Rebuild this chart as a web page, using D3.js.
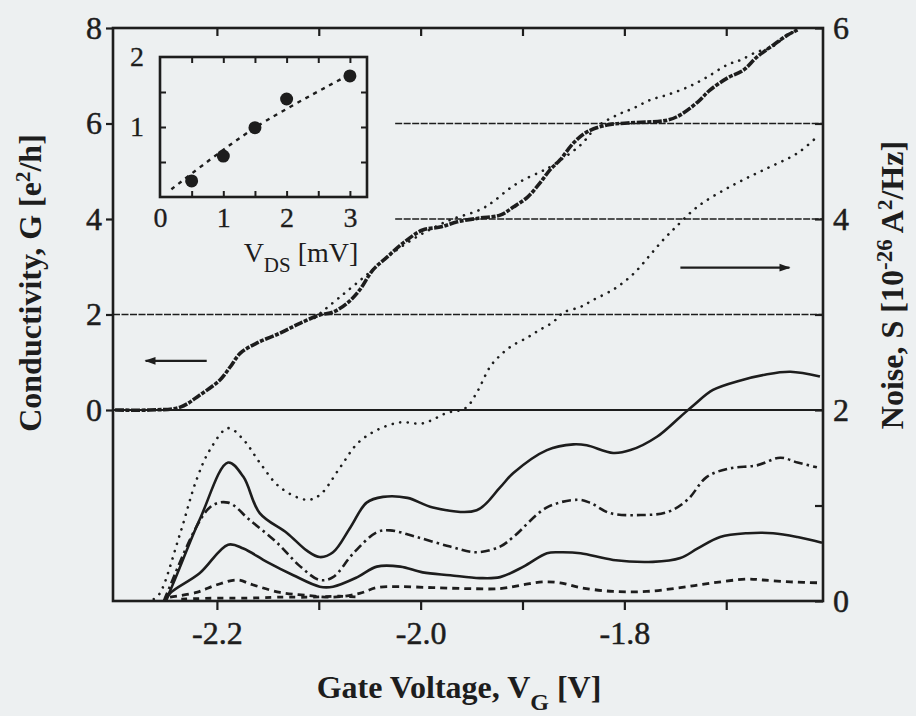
<!DOCTYPE html>
<html>
<head>
<meta charset="utf-8">
<script src="https://cdn.jsdelivr.net/npm/d3@7"></script>
<style>
  html, body { margin: 0; padding: 0; background: #edf0f1; }
  svg { display: block; }
</style>
</head>
<body>
<svg id="chart" width="916" height="716"></svg>
<script>
// ---- Conductance G (e^2/h) versus gate voltage, heavy trace ----
const condGate = [-2.300, -2.266, -2.236, -2.217, -2.197, -2.187, -2.177, -2.161, -2.138, -2.118, -2.099, -2.086,
  -2.072, -2.060, -2.047, -2.033, -2.017, -1.998, -1.981, -1.964, -1.942, -1.922, -1.909, -1.895,
  -1.883, -1.873, -1.863, -1.850, -1.837, -1.817, -1.797, -1.758, -1.745, -1.728, -1.716, -1.699,
  -1.683, -1.670, -1.654, -1.640, -1.630];
const condG = [0.00, 0.00, 0.06, 0.31, 0.63, 0.90, 1.19, 1.40, 1.61, 1.82, 1.99, 2.05,
  2.24, 2.51, 2.93, 3.20, 3.50, 3.77, 3.83, 3.94, 4.02, 4.08, 4.25, 4.46,
  4.75, 5.03, 5.24, 5.59, 5.82, 5.97, 6.01, 6.07, 6.18, 6.45, 6.70, 6.95,
  7.12, 7.39, 7.64, 7.85, 7.96];

// ---- Conductance, dotted trace ----
const cond2Gate = [-2.104, -2.079, -2.053, -2.030, -2.001, -1.971, -1.942, -1.929, -1.912, -1.899, -1.883,
  -1.873, -1.843, -1.827, -1.807, -1.791, -1.775, -1.758, -1.738, -1.719, -1.699, -1.686, -1.670,
  -1.657, -1.640, -1.630];
const cond2G = [1.93, 2.37, 2.83, 3.25, 3.66, 3.98, 4.19, 4.36, 4.65, 4.82, 4.98,
  5.09, 5.55, 5.93, 6.18, 6.32, 6.49, 6.60, 6.76, 6.97, 7.23, 7.33, 7.50,
  7.58, 7.85, 7.96];

// ---- Noise S (1e-26 A^2/Hz), five bias settings ----
const noiseDotGate = [-2.262, -2.256, -2.236, -2.220, -2.207, -2.189, -2.174, -2.158, -2.138, -2.112, -2.099,
  -2.079, -2.062, -2.043, -2.020, -1.998, -1.974, -1.956, -1.945, -1.932, -1.924, -1.912, -1.895,
  -1.883, -1.870, -1.860, -1.843, -1.831, -1.811, -1.797, -1.787, -1.775, -1.762, -1.750, -1.728,
  -1.696, -1.664, -1.630, -1.611];
const noiseDot = [0.02, 0.08, 0.71, 1.27, 1.58, 1.81, 1.69, 1.45, 1.19, 1.06, 1.11,
  1.40, 1.65, 1.79, 1.87, 1.86, 1.97, 2.02, 2.18, 2.45, 2.55, 2.66, 2.76,
  2.84, 2.92, 3.02, 3.08, 3.15, 3.26, 3.37, 3.47, 3.62, 3.78, 3.91, 4.13,
  4.34, 4.51, 4.69, 4.86];

const noiseHighGate = [-2.252, -2.249, -2.217, -2.189, -2.174, -2.158, -2.131, -2.112, -2.099, -2.086, -2.069,
  -2.053, -2.037, -2.013, -1.988, -1.945, -1.922, -1.909, -1.876, -1.850, -1.837, -1.811, -1.794,
  -1.768, -1.745, -1.732, -1.713, -1.686, -1.662, -1.637, -1.608];
const noiseHigh = [0.00, 0.04, 0.85, 1.45, 1.30, 0.92, 0.71, 0.53, 0.46, 0.51, 0.77,
  1.03, 1.09, 1.08, 0.98, 0.95, 1.19, 1.34, 1.58, 1.64, 1.63, 1.55, 1.58,
  1.72, 1.93, 2.05, 2.21, 2.31, 2.37, 2.40, 2.35];

const noiseMidGate = [-2.252, -2.249, -2.207, -2.189, -2.168, -2.141, -2.118, -2.099, -2.086, -2.066, -2.043,
  -2.030, -2.004, -1.971, -1.945, -1.922, -1.909, -1.876, -1.846, -1.834, -1.814, -1.784, -1.758,
  -1.738, -1.719, -1.696, -1.670, -1.647, -1.630, -1.611];
const noiseMid = [0.00, 0.08, 0.98, 1.03, 0.85, 0.61, 0.36, 0.22, 0.25, 0.50, 0.72,
  0.74, 0.67, 0.57, 0.51, 0.57, 0.67, 0.98, 1.06, 1.03, 0.92, 0.90, 0.93,
  1.06, 1.30, 1.39, 1.42, 1.50, 1.45, 1.40];

const noiseLowGate = [-2.250, -2.246, -2.217, -2.189, -2.174, -2.151, -2.125, -2.099, -2.086, -2.062, -2.043,
  -2.020, -1.998, -1.971, -1.942, -1.922, -1.899, -1.876, -1.863, -1.843, -1.811, -1.772, -1.745,
  -1.728, -1.706, -1.679, -1.654, -1.630, -1.606];
const noiseLow = [0.00, 0.08, 0.29, 0.59, 0.55, 0.41, 0.27, 0.15, 0.15, 0.25, 0.36,
  0.36, 0.30, 0.27, 0.24, 0.25, 0.36, 0.50, 0.51, 0.50, 0.43, 0.41, 0.45,
  0.55, 0.67, 0.71, 0.71, 0.67, 0.61];

const noiseDashGate = [-2.246, -2.220, -2.200, -2.180, -2.165, -2.138, -2.112, -2.086, -2.060, -2.043, -2.020,
  -1.988, -1.954, -1.922, -1.899, -1.880, -1.863, -1.843, -1.811, -1.778, -1.745, -1.713, -1.679,
  -1.664, -1.637, -1.606];
const noiseDash = [0.04, 0.09, 0.17, 0.22, 0.17, 0.09, 0.06, 0.04, 0.08, 0.14, 0.15,
  0.14, 0.13, 0.13, 0.17, 0.20, 0.19, 0.14, 0.10, 0.10, 0.14, 0.19, 0.23,
  0.22, 0.20, 0.19];

const noiseZeroGate = [-2.235, -2.200, -2.170, -2.140, -2.110, -2.080, -2.060];
const noiseZero = [0.02, 0.03, 0.03, 0.04, 0.04, 0.05, 0.04];

// ---- Inset: slope versus drain-source voltage ----
const insetVds = [0.5, 1.0, 1.5, 2.0, 3.0];
const insetSlope = [0.23, 0.585, 0.99, 1.40, 1.73];
const insetFitVds = [0.18, 1.5, 3.0];
const insetFitSlope = [0.11, 0.99, 1.75];

// ---- Ticks ----
const gateTicks = [-2.2, -2.1, -2.0, -1.9, -1.8, -1.7];
const gateLabels = [-2.2, -2.0, -1.8];
const condTicks = [0, 2, 4, 6, 8];
const noiseTicks = [0, 1, 2, 3, 4, 5, 6];
const noiseLabels = [0, 2, 4, 6];
const plateaus = [0, 2, 4, 6];
const insetXTicks = [0.5, 1, 1.5, 2, 2.5, 3];
const insetXLabels = [0, 1, 2, 3];
const insetYTicks = [0.5, 1, 1.5];
const insetYLabels = [1, 2];

const ink = "#1d1d1d";
const serif = "Liberation Serif";
const svg = d3.select("#chart");

// main frame geometry
const L = 113, R = 823, T = 28, B = 601;
const x = d3.scaleLinear().domain([-2.302, -1.605]).range([L, R]);
const yG = d3.scaleLinear().domain([-4, 8]).range([B, T]);
const yS = d3.scaleLinear().domain([0, 6]).range([B, T]);

// plateau reference lines (lines at 4 and 6 start to the right of the inset)
const plateauStart = { 0: -2.302, 2: -2.302, 4: -2.025, 6: -2.025 };
svg.append("g").selectAll("line").data(plateaus).join("line")
  .attr("x1", d => x(plateauStart[d])).attr("x2", R)
  .attr("y1", d => yG(d)).attr("y2", d => yG(d))
  .attr("stroke", ink)
  .attr("stroke-width", d => d === 0 ? 2.2 : 1.6)
  .attr("stroke-dasharray", d => d === 0 ? null : "7,1.5");

// axes
function styleAxis(g) {
  g.attr("font-family", serif);
  g.select(".domain").remove();
  g.selectAll(".tick line").attr("stroke", ink).attr("stroke-width", 2.2);
  g.selectAll(".tick text").attr("fill", ink).attr("stroke", ink).attr("stroke-width", 0.5)
    .style("font-size", "32px").style("font-family", serif);
}
svg.append("g").attr("transform", `translate(0,${B})`)
  .call(d3.axisBottom(x).tickValues(gateTicks).tickSize(9).tickPadding(11)
    .tickFormat(d => gateLabels.some(v => Math.abs(v - d) < 1e-9) ? d.toFixed(1) : ""))
  .call(styleAxis);
svg.append("g").attr("transform", `translate(0,${T})`)
  .call(d3.axisTop(x).tickValues(gateTicks).tickSize(-8).tickFormat(""))
  .call(styleAxis);
svg.append("g").attr("transform", `translate(${L},0)`)
  .call(d3.axisLeft(yG).tickValues(condTicks).tickSize(7).tickPadding(4).tickFormat(d3.format("d")))
  .call(styleAxis);
svg.append("g").attr("transform", `translate(${R},0)`)
  .call(d3.axisRight(yS).tickValues(noiseTicks).tickSize(-8).tickPadding(10)
    .tickFormat(d => noiseLabels.includes(d) ? d : ""))
  .call(styleAxis);

// frame
svg.append("rect").attr("x", L).attr("y", T).attr("width", R - L).attr("height", B - T)
  .attr("fill", "none").attr("stroke", ink).attr("stroke-width", 2.6);

// traces
function trace(xs, ys, yScale, opts) {
  const pts = xs.map((v, i) => [x(v), yScale(ys[i])]);
  svg.append("path").datum(pts)
    .attr("d", d3.line().curve(d3.curveCatmullRom.alpha(0.5)))
    .attr("fill", "none").attr("stroke", ink)
    .attr("stroke-width", opts.w)
    .attr("stroke-linecap", opts.cap || "butt")
    .attr("stroke-linejoin", "round")
    .attr("stroke-dasharray", opts.dash || null);
}
trace(condGate, condG, yG, { w: 3.6, dash: "9,1.5,4,1.5" });
trace(cond2Gate, cond2G, yG, { w: 2.6, dash: "0.1,7.5", cap: "round" });
trace(noiseDotGate, noiseDot, yS, { w: 2.6, dash: "0.1,7.5", cap: "round" });
trace(noiseHighGate, noiseHigh, yS, { w: 2.6 });
trace(noiseMidGate, noiseMid, yS, { w: 2.6, dash: "9,4,2.5,4" });
trace(noiseLowGate, noiseLow, yS, { w: 2.6 });
trace(noiseDashGate, noiseDash, yS, { w: 2.8, dash: "7,5" });
trace(noiseZeroGate, noiseZero, yS, { w: 2.8, dash: "6,6" });

// axis-indicating arrows
const arrowDefs = svg.append("defs");
arrowDefs.append("marker").attr("id", "head").attr("viewBox", "0 0 10 10")
  .attr("refX", 9).attr("refY", 5).attr("markerWidth", 6.5).attr("markerHeight", 5)
  .attr("markerUnits", "strokeWidth").attr("orient", "auto")
  .append("path").attr("d", "M0,1.5 L10,5 L0,8.5 Z").attr("fill", ink);
svg.append("line")
  .attr("x1", x(-2.210)).attr("x2", x(-2.270)).attr("y1", yG(1.03)).attr("y2", yG(1.03))
  .attr("stroke", ink).attr("stroke-width", 2.2).attr("marker-end", "url(#head)");
svg.append("line")
  .attr("x1", x(-1.745)).attr("x2", x(-1.638)).attr("y1", yS(3.49)).attr("y2", yS(3.49))
  .attr("stroke", ink).attr("stroke-width", 2.2).attr("marker-end", "url(#head)");

// axis titles
function title(sel) {
  return sel.style("font-family", serif).style("font-size", "32px").style("font-weight", "bold")
    .attr("fill", ink).attr("text-anchor", "middle");
}
const xt = title(svg.append("text")).attr("x", 459).attr("y", 698);
xt.append("tspan").text("Gate Voltage, V");
xt.append("tspan").attr("dy", 12).style("font-size", "24px").text("G");
xt.append("tspan").attr("dy", -12).text(" [V]");

const yt = title(svg.append("text")).attr("transform", "translate(41,283) rotate(-90)");
yt.append("tspan").text("Conductivity, G [e");
yt.append("tspan").attr("dy", -11).style("font-size", "21px").text("2");
yt.append("tspan").attr("dy", 11).text("/h]");

const rt = title(svg.append("text")).attr("transform", "translate(903,285) rotate(-90)");
rt.append("tspan").text("Noise, S [10");
rt.append("tspan").attr("dy", -11).style("font-size", "23px").text("-26");
rt.append("tspan").attr("dy", 11).text(" A");
rt.append("tspan").attr("dy", -11).style("font-size", "21px").text("2");
rt.append("tspan").attr("dy", 11).text("/Hz]");

// ---- inset ----
const iL = 160, iR = 367, iT = 57, iB = 197;
const ix = d3.scaleLinear().domain([0, 3.27]).range([iL, iR]);
const iy = d3.scaleLinear().domain([0, 2]).range([iB, iT]);
const inset = svg.append("g");
function styleInset(g) {
  g.attr("font-family", serif);
  g.select(".domain").remove();
  g.selectAll(".tick line").attr("stroke", ink).attr("stroke-width", 2);
  g.selectAll(".tick text").attr("fill", ink).attr("stroke", ink).attr("stroke-width", 0.3)
    .style("font-size", "28px").style("font-family", serif);
}
inset.append("g").attr("transform", `translate(0,${iB})`)
  .call(d3.axisBottom(ix).tickValues(insetXTicks).tickSize(-6).tickFormat("")).call(styleInset);
inset.append("g").attr("transform", `translate(0,${iB})`)
  .call(d3.axisBottom(ix).tickValues(insetXLabels).tickSize(0).tickPadding(10).tickFormat(d3.format("d")))
  .call(styleInset);
inset.append("g").attr("transform", `translate(0,${iT})`)
  .call(d3.axisTop(ix).tickValues(insetXTicks).tickSize(-6).tickFormat("")).call(styleInset);
inset.append("g").attr("transform", `translate(${iL},0)`)
  .call(d3.axisLeft(iy).tickValues(insetYTicks).tickSize(-6).tickFormat("")).call(styleInset);
inset.append("g").attr("transform", `translate(${iL},0)`)
  .call(d3.axisLeft(iy).tickValues(insetYLabels).tickSize(0).tickPadding(16).tickFormat(d3.format("d")))
  .call(styleInset);
inset.append("g").attr("transform", `translate(${iR},0)`)
  .call(d3.axisRight(iy).tickValues(insetYTicks).tickSize(-6).tickFormat("")).call(styleInset);
inset.append("rect").attr("x", iL).attr("y", iT).attr("width", iR - iL).attr("height", iB - iT)
  .attr("fill", "none").attr("stroke", ink).attr("stroke-width", 2.6);
inset.append("path").datum(insetFitVds.map((v, i) => [ix(v), iy(insetFitSlope[i])]))
  .attr("d", d3.line().curve(d3.curveCatmullRom.alpha(0.5)))
  .attr("fill", "none").attr("stroke", ink).attr("stroke-width", 2.4).attr("stroke-dasharray", "4,5");
inset.append("g").selectAll("circle").data(insetVds).join("circle")
  .attr("cx", d => ix(d)).attr("cy", (d, i) => iy(insetSlope[i])).attr("r", 6.5).attr("fill", ink);

const it = inset.append("text").attr("x", 301).attr("y", 262).attr("text-anchor", "middle")
  .style("font-family", serif).style("font-size", "28px").attr("fill", ink);
it.append("tspan").text("V");
it.append("tspan").attr("dy", 10).style("font-size", "21px").text("DS");
it.append("tspan").attr("dy", -10).text(" [mV]");
</script>
</body>
</html>
